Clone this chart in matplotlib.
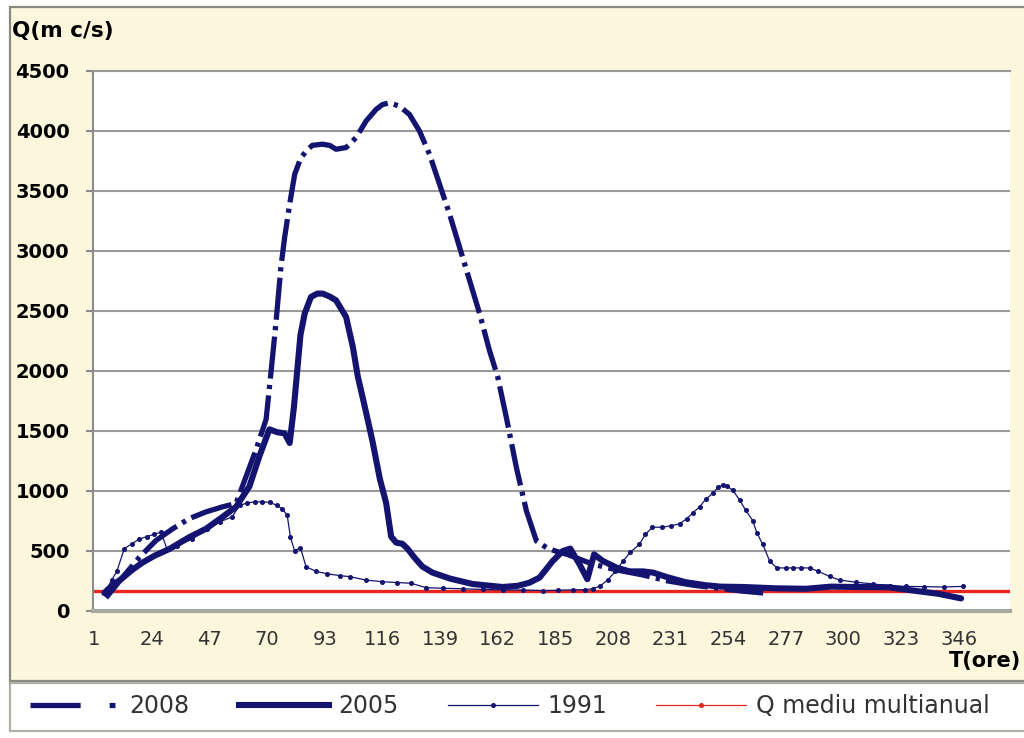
import matplotlib
matplotlib.use("Agg")
import matplotlib.pyplot as plt
from matplotlib.lines import Line2D
from matplotlib.patches import Rectangle

# debite (m c/s) pe ore, citite de pe hidrograf
t_2008 = [5.7, 12.2, 19, 25.6, 32.3, 38.9, 45.6, 52.2, 57.6, 61.6, 65.6, 69.6, 71.5, 73.5, 75.5, 77,
          79, 81, 83.5, 86, 88, 92, 95, 97.5, 101.5, 105.5, 109.5, 113.5, 116, 118.8, 122.8, 126.8,
          130.8, 134.8, 138.8, 142.8, 146.8, 150.8, 154.8, 158.7, 162, 165.5, 169.5, 173.5, 177.5,
          181.5, 185, 190, 195, 200, 210, 220, 230, 240, 250, 260, 268]
q_2008 = [110, 278, 447, 587, 685, 770, 826, 868, 896, 1121, 1346, 1598, 1981, 2396, 2866, 3115,
          3391, 3640, 3779, 3840, 3880, 3890, 3880, 3848, 3862, 3945, 4083, 4180, 4220, 4235, 4207, 4138,
          4000, 3806, 3557, 3308, 3032, 2755, 2479, 2174, 1953, 1611, 1194, 833, 583,
          528, 500, 470, 430, 390, 340, 300, 250, 215, 190, 165, 150]

t_2005 = [5, 8, 12, 16, 20, 25, 31, 38.9, 45.6, 52.2, 57.6, 62.9, 66.9, 70.9, 74, 77, 79, 80.7,
          83.3, 85, 87.5, 90, 92.2, 95, 97.5, 101.5, 104.2, 106.2, 109, 112, 115, 117.5, 119.5, 121.5,
          124, 126, 129, 132, 136, 143, 152, 164, 170, 174.7, 178.7, 184, 188, 191, 194.7, 197.8, 200.5,
          204, 209.5, 214.7, 220, 224, 230, 237, 245, 251, 260, 273, 285, 295, 305, 318, 328, 338, 347]
q_2005 = [150, 210, 270, 340, 400, 460, 517, 615, 685, 784, 868, 1037, 1289, 1514, 1490, 1480, 1400, 1700,
          2300, 2480, 2617, 2645, 2645, 2620, 2589, 2451, 2202, 1953, 1700, 1420, 1100, 900, 620, 570,
          560, 520, 440, 370, 320, 270, 225, 200, 210, 236, 278, 417, 500, 520, 389, 265, 472,
          417, 361, 330, 330, 320, 280, 240, 215, 203, 200, 189, 185, 203, 200, 198, 170, 143, 105]

t_1991 = [6, 8, 10, 13, 16, 19, 22, 25, 27.6, 30,
          34, 40, 46, 51, 56, 59, 62, 65, 68, 71,
          74, 76, 78, 79.3, 81, 83.3, 85.5, 89.5, 94, 99,
          103, 109.5, 116, 122, 127.5, 133.5, 140, 148, 156, 164,
          172, 180, 186, 192, 197, 200, 203, 206, 209, 212,
          215, 218.6, 221, 223.8, 227.8, 231, 234.6, 237.4, 240, 242.6,
          245, 247.8, 250, 251.8, 253.5, 255.8, 258.6, 261, 263.8, 265.5,
          267.8, 270.6, 273.4, 277, 280, 283, 286.6, 290, 294.5, 298.5,
          305, 312, 318.5, 325, 332, 340, 347.7]
q_1991 = [180, 260, 330, 520, 560, 600, 620, 640, 657, 520,
          540, 600, 680, 742, 784, 880, 900, 910, 910, 905,
          880, 850, 800, 614, 500, 529, 370, 330, 310, 295,
          286, 258, 244, 237, 231, 194, 190, 185, 180, 175,
          175, 170, 172, 176, 178, 185, 210, 260, 330, 415,
          490, 556, 640, 698, 698, 710, 726, 768, 820, 867,
          930, 980, 1030, 1051, 1040, 1008, 924, 840, 754, 650,
          556, 415, 359, 359, 359, 359, 359, 330, 288, 258,
          240, 225, 210, 205, 203, 200, 205]

t_mediu = [1, 366]
q_mediu = [170, 170]

x_ticks = list(range(1, 347, 23))
y_ticks = list(range(0, 4501, 500))

navy = "#141470"
red = "#e8261e"
cream = "#fbf6dc"
grey = "#9a9a9a"

fig = plt.figure(figsize=(10.24, 7.38), dpi=100)
W, H = 1024.0, 738.0

# fundal crem + caseta legendei
fig.patches.append(Rectangle((10 / W, 1 - 681 / H), 1.02, (681 - 7) / H, transform=fig.transFigure,
                             facecolor=cream, edgecolor="#8a8a80", lw=1.6, zorder=-5))
fig.patches.append(Rectangle((10 / W, 1 - 731 / H), 1.02, (731 - 683) / H, transform=fig.transFigure,
                             facecolor="white", edgecolor="#b0b0a8", lw=1.6, zorder=-5))

ax = fig.add_axes([93 / W, 1 - 611 / H, 917 / W, 540 / H])
ax.set_facecolor("white")

ax.plot(t_mediu, q_mediu, color=red, lw=2.4, zorder=2)
ax.plot(t_1991, q_1991, color=navy, lw=0.9, marker="o", ms=2.6, zorder=3)
ax.plot(t_2005, q_2005, color=navy, lw=4.4, solid_joinstyle="round", solid_capstyle="round", zorder=4)
ax.plot(t_2008, q_2008, color=navy, lw=3.8, dashes=(8, 1.2, 0.8, 1.2), zorder=5)

ax.set_xlim(0.5, 366.5)
ax.set_ylim(0, 4500)
ax.set_xticks(x_ticks)
ax.set_yticks(y_ticks)
ax.grid(axis="y", color=grey, lw=1.5)
ax.set_axisbelow(True)

ax.spines["right"].set_visible(False)
ax.spines["top"].set_color(grey)
ax.spines["top"].set_linewidth(1.5)
ax.spines["left"].set_color("#8c8c8c")
ax.spines["left"].set_linewidth(1.5)
ax.spines["bottom"].set_color("#a8a8a0")
ax.spines["bottom"].set_linewidth(3)

ax.tick_params(axis="y", labelsize=14, length=5, width=1.5, color="#8c8c8c", pad=12)
ax.tick_params(axis="x", labelsize=14, length=0, pad=14, labelcolor="#333333")
for lab in ax.get_yticklabels():
    lab.set_fontweight("bold")

fig.text(12 / W, 1 - 31 / H, "Q(m c/s)", fontsize=15.5, fontweight="bold", va="center", ha="left")
fig.text(1021 / W, 1 - 661 / H, "T(ore)", fontsize=15, fontweight="bold", va="center", ha="right")

handles = [
    Line2D([], [], color=navy, lw=3.8, dashes=(9.5, 5.5, 1.1, 10)),
    Line2D([], [], color=navy, lw=4.4),
    Line2D([], [], color=navy, lw=0.9, marker="o", ms=2.6),
    Line2D([], [], color=red, lw=0.9, marker="o", ms=2.6),
]
labels = ["2008", "2005", "1991", "Q mediu multianual"]
leg = fig.legend(handles, labels, loc="center left", bbox_to_anchor=(30 / W, 1 - 706 / H), ncol=4,
                 frameon=False, fontsize=17, handlelength=3.8, handletextpad=0.4, columnspacing=2.1,
                 borderaxespad=0, borderpad=0)
for txt in leg.get_texts():
    txt.set_color("#333333")

fig.savefig("out.png", dpi=100)
